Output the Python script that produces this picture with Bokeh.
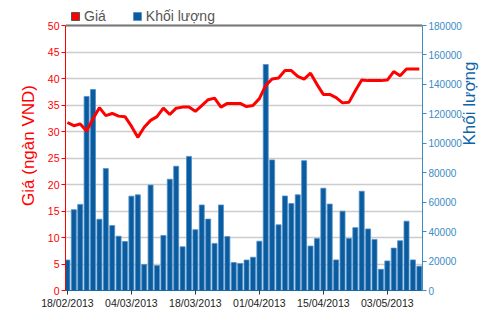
import math
from bokeh.plotting import figure
from bokeh.models import (Range1d, LinearAxis, FixedTicker, Legend, LegendItem,
                          ColumnDataSource, Span, NumeralTickFormatter)
from bokeh.embed import file_html
from bokeh.resources import INLINE

# ---- data ----
tick_labels = ["18/02/2013", "04/03/2013", "18/03/2013", "01/04/2013", "15/04/2013", "03/05/2013"]
tick_positions = [0, 10, 20, 30, 40, 50]

price = [31.7, 31.1, 31.4, 30.1, 32.4, 34.5, 33.0, 33.4, 32.9, 32.8,
         31.0, 28.9, 30.8, 32.1, 32.8, 34.4, 33.2, 34.4, 34.6, 34.6,
         33.8, 34.9, 36.0, 36.3, 34.6, 35.3, 35.3, 35.3, 34.7, 34.9,
         36.2, 38.7, 39.9, 40.1, 41.5, 41.5, 40.4, 39.9, 41.0, 38.9,
         37.0, 37.0, 36.4, 35.4, 35.5, 37.7, 39.7, 39.6, 39.6, 39.6,
         39.7, 41.3, 40.5, 41.8, 41.8, 41.8]

volume = [20700, 54900, 58500, 131800, 136500, 48400, 82800, 44100, 36900, 33300,
          64100, 65000, 17600, 71600, 16900, 37400, 75600, 84400, 29700, 91100,
          41300, 58100, 48500, 32000, 58100, 36600, 19000, 18400, 20700, 22600,
          33500, 153500, 88700, 44600, 64200, 59100, 65000, 88200, 30200, 35400,
          69500, 58700, 20800, 53900, 35400, 42700, 67400, 41800, 34700, 14400,
          20100, 28800, 33800, 47100, 20800, 16500]

price_ticks = list(range(0, 51, 5))
volume_ticks = list(range(0, 180001, 20000))

idx = list(range(len(volume)))

RED = "#ff0000"
BLUE = "#0b5c9e"
AXBLUE = "#3a8cc4"
FONT = "Liberation Sans"

# frame spans the full height above the x axis; the top strip holds the legend
H, BOTTOM, TOPGAP = 312, 22, 25
frame_h = H - BOTTOM
scale = frame_h / (frame_h - TOPGAP)

p = figure(width=500, height=H, output_backend="svg", toolbar_location=None,
           x_range=Range1d(-0.3, 55.5), y_range=Range1d(0, 50 * scale),
           min_border_left=65, min_border_right=78, min_border_top=0, min_border_bottom=BOTTOM)
p.extra_y_ranges = {"vol": Range1d(0, 180000 * scale)}
p.outline_line_color = None
p.background_fill_color = "white"
p.border_fill_color = "white"

src = ColumnDataSource(dict(x=idx, vol=volume, price=price))

bars = p.vbar(x="x", top="vol", width=0.78, source=src, y_range_name="vol",
              fill_color=BLUE, line_color="#4f8fca", line_width=0.8)
line = p.line(x="x", y="price", source=src, line_color=RED, line_width=3)

# legend swatch for price (placed outside visible range)
dummy = ColumnDataSource(dict(x=[-50], top=[1]))
r_red = p.vbar(x="x", top="top", width=0.5, source=dummy, fill_color=RED, line_color="#555555")

# axes
p.xaxis.ticker = FixedTicker(ticks=tick_positions)
p.xaxis.major_label_overrides = {t: l for t, l in zip(tick_positions, tick_labels)}
p.xaxis.major_label_text_font_size = "10.5px"
p.xaxis.major_label_text_font = FONT
p.xaxis.major_label_text_color = "#222222"
p.xaxis.axis_line_color = "#1b6aa8"
p.xaxis.major_tick_line_color = "#333333"
p.xaxis.major_tick_in = 0
p.xaxis.major_tick_out = 4
p.xaxis.minor_tick_line_color = None
p.xaxis.major_label_standoff = 2

ya = p.yaxis[0]
ya.ticker = FixedTicker(ticks=price_ticks)
ya.bounds = (0, 50)
ya.axis_label = "Giá (ngàn VND)"
ya.axis_label_text_color = RED
ya.axis_label_text_font_size = "17px"
ya.axis_label_text_font_style = "normal"
ya.axis_label_text_font = FONT
ya.axis_label_standoff = 7
ya.major_label_text_color = RED
ya.major_label_text_font_size = "10.5px"
ya.major_label_text_font = FONT
ya.axis_line_color = RED
ya.major_tick_line_color = RED
ya.major_tick_in = 0
ya.major_tick_out = 4
ya.minor_tick_line_color = None
ya.major_label_standoff = 2

ra = LinearAxis(y_range_name="vol", ticker=FixedTicker(ticks=volume_ticks),
                formatter=NumeralTickFormatter(format="0"))
ra.bounds = (0, 180000)
ra.axis_label = "Khối lượng"
ra.axis_label_text_color = "#0d64a8"
ra.axis_label_text_font_size = "17px"
ra.axis_label_text_font_style = "normal"
ra.axis_label_text_font = FONT
ra.axis_label_standoff = 5
try:
    ra.axis_label_orientation = math.pi / 2
except Exception:
    pass
ra.major_label_text_color = AXBLUE
ra.major_label_text_font_size = "10px"
ra.major_label_text_font = FONT
ra.axis_line_color = AXBLUE
ra.major_tick_line_color = AXBLUE
ra.major_tick_in = 0
ra.major_tick_out = 4
ra.minor_tick_line_color = None
ra.major_label_standoff = 2
p.add_layout(ra, "right")

p.xgrid.grid_line_color = None
p.ygrid.grid_line_color = "#cccccc"
p.ygrid.grid_line_width = 1.5

top_line = Span(location=50, dimension="width", line_color="#777777", line_width=2)
p.add_layout(top_line)

legend = Legend(items=[LegendItem(label="Giá", renderers=[r_red]),
                       LegendItem(label="Khối lượng", renderers=[bars])],
                orientation="horizontal", location=(5, frame_h - 24),
                label_text_font=FONT, label_text_font_size="14px",
                label_text_color="#555555", glyph_width=10, glyph_height=10,
                label_standoff=4, spacing=26, padding=0, margin=0,
                border_line_color=None, background_fill_alpha=0)
p.add_layout(legend)

open("out.html", "w").write(file_html(p, INLINE))
